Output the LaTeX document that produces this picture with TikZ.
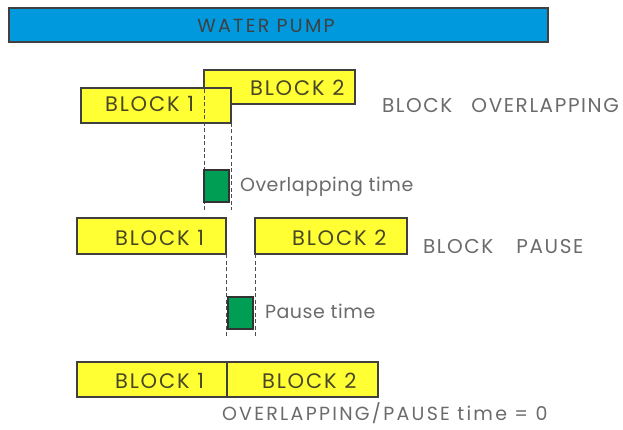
\documentclass[tikz,border=0pt]{standalone}
\usepackage{fontspec}
\setmainfont{Poppins}
\newfontfamily\capsfont[LetterSpace=12]{Poppins}
\newfontfamily\namefont[LetterSpace=8]{Poppins}
\newfontfamily\blockfont[LetterSpace=9]{Poppins}
\newfontfamily\timefont[LetterSpace=3]{Poppins}
\newlength{\du}
\setlength{\du}{1pt}
\definecolor{pumpblue}{rgb}{0.000000, 0.600000, 0.870000}
\definecolor{blockyellow}{rgb}{1.000000, 1.000000, 0.200000}
\definecolor{timegreen}{rgb}{0.000000, 0.620000, 0.330000}
\definecolor{blocktext}{rgb}{0.280000, 0.280000, 0.150000}
\definecolor{labeltext}{rgb}{0.420000, 0.420000, 0.420000}
\begin{document}
\begin{tikzpicture}[even odd rule,
  blockbox/.style={draw=black!75, fill=blockyellow, line width=1.3\du, inner sep=0pt, outer sep=0pt, anchor=north west},
  timebox/.style={draw=black!80, fill=timegreen, line width=1.1\du, inner sep=0pt, outer sep=0pt, anchor=north west, minimum width=25\du, minimum height=32\du},
  blocklabel/.style={anchor=base west, inner sep=0pt, outer sep=0pt, color=blocktext, font=\blockfont\fontsize{21}{21}\selectfont},
  sidelabel/.style={anchor=base west, inner sep=0pt, outer sep=0pt, color=labeltext, font=\namefont\fontsize{20}{20}\selectfont},
  timelabel/.style={sidelabel, font=\timefont\fontsize{19}{19}\selectfont},
  edgeline/.style={draw=black!70, line width=0.9\du, dash pattern=on 4\du off 2.5\du}]
\pgftransformxscale{1.000000}
\pgftransformyscale{-1.000000}
\useasboundingbox (0\du,0\du) rectangle (623\du,430\du);
% water pump
\node[blockbox, fill=pumpblue, minimum width=539\du, minimum height=34\du] (pump) at (9\du,8\du) {};
\node[anchor=base, inner sep=0pt, color=black!75, font=\capsfont\fontsize{19}{19}\selectfont] (pumptext) at (266\du,33\du) {WATER PUMP};
% block overlapping
\node[blockbox, minimum width=151\du, minimum height=34\du] (ovb2) at (204\du,70\du) {};
\node[blockbox, minimum width=150\du, minimum height=35\du] (ovb1) at (81\du,88\du) {};
\node[blocklabel] (ovt1) at (105\du,112\du) {BLOCK 1};
\node[blocklabel] (ovt2) at (250\du,96\du) {BLOCK 2};
\coordinate (ovdl) at (204\du,210\du);
\coordinate (ovdr) at (231\du,210\du);
\draw[edgeline] (ovb2.north west) -- (ovdl);
\draw[edgeline] (ovb1.south east) -- (ovdr);
\node[timebox] (ovgap) at (204\du,170\du) {};
\node[timelabel] (ovtime) at (240\du,192\du) {Overlapping time};
\node[sidelabel] (ovname) at (382\du,113\du) {BLOCK\hspace{19\du}OVERLAPPING};
% block pause
\node[blockbox, minimum width=149\du, minimum height=36\du] (pab1) at (77\du,218\du) {};
\node[blockbox, minimum width=152\du, minimum height=36\du] (pab2) at (255\du,218\du) {};
\node[blocklabel] (pat1) at (115\du,245\du) {BLOCK 1};
\node[blocklabel] (pat2) at (292\du,245\du) {BLOCK 2};
\coordinate (padl) at (226\du,338\du);
\coordinate (padr) at (255\du,338\du);
\draw[edgeline] (pab1.south east) -- (padl);
\draw[edgeline] (pab2.south west) -- (padr);
\node[timebox] (pagap) at (228\du,297\du) {};
\node[timelabel] (patime) at (265\du,318\du) {Pause time};
\node[sidelabel] (paname) at (423\du,253\du) {BLOCK\hspace{23\du}PAUSE};
% no overlapping, no pause
\node[blockbox, minimum width=150\du, minimum height=35\du] (zrb1) at (77\du,362\du) {};
\node[blockbox, minimum width=151\du, minimum height=35\du] (zrb2) at (227\du,362\du) {};
\node[blocklabel] (zrt1) at (115\du,388\du) {BLOCK 1};
\node[blocklabel] (zrt2) at (262\du,388\du) {BLOCK 2};
\node[sidelabel, font=\capsfont\fontsize{19}{19}\selectfont] (zrname) at (222\du,420\du) {OVERLAPPING/PAUSE time = 0};
\end{tikzpicture}
\end{document}
